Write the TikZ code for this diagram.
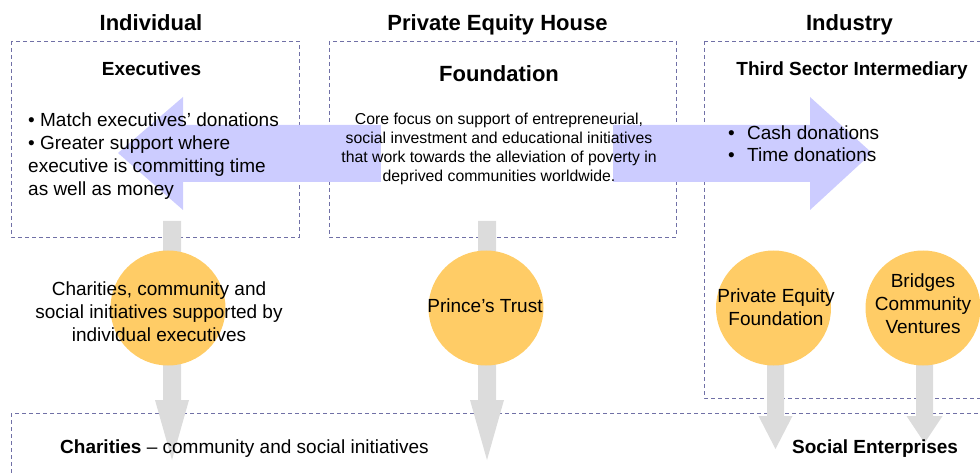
\documentclass[tikz,border=0pt]{standalone}
\usepackage{fontspec}
\setmainfont{Liberation Sans}
\definecolor{dashc}{HTML}{7070A6}
\definecolor{bluearr}{HTML}{CCCCFF}
\definecolor{grayarr}{HTML}{DCDCDC}
\definecolor{circc}{HTML}{FFCC66}
\newcommand\grayblock[6]{% cx, shaft half width, top, head base, head half width, tip
  \fill[grayarr] ({#1-#2},#3) -- ({#1+#2},#3) -- ({#1+#2},#4) -- ({#1+#5},#4) -- (#1,#6)
    -- ({#1-#5},#4) -- ({#1-#2},#4) -- cycle;}
\begin{document}
\begin{tikzpicture}[x=1pt,y=-1pt,
  box/.style={draw=dashc, dash pattern=on 4pt off 3pt, line width=0.9pt},
  headtxt/.style={font=\fontsize{22}{26}\selectfont\bfseries, anchor=base, inner sep=0pt},
  titletxt/.style={font=\fontsize{19}{23}\selectfont\bfseries, anchor=base, inner sep=0pt},
  bodytxt/.style={font=\fontsize{19}{23}\selectfont, inner sep=0pt},
  smalltxt/.style={font=\fontsize{15.8}{19}\selectfont, inner sep=0pt, align=center},
  disc/.style={circle, fill=circc, minimum size=115pt, inner sep=0pt}]
\useasboundingbox (0,0) rectangle (980,473);
\clip (0,0) rectangle (980,473);

% dashed boxes
\draw[box] (11,41) rectangle (299,237);
\draw[box] (329,41) rectangle (676,237);
\draw[box] (704,41) rectangle (1000,398);
\draw[box] (11,413) rectangle (1000,520);

% headers
\node[headtxt] (hInd) at (151,31) {Individual};
\node[headtxt] (hPEH) at (497.5,31) {Private Equity House};
\node[headtxt] (hIndus) at (849.5,31) {Industry};

% blue double arrow
\fill[bluearr] (118,153) -- (183,97) -- (183,125) -- (810,125) -- (810,97) -- (872,153)
  -- (810,210) -- (810,182) -- (183,182) -- (183,210) -- cycle;
\fill[white] (381,110) rectangle (613,195);

% gray arrows
\grayblock{172}{9}{221}{400}{17}{460}
\grayblock{487}{9}{221}{400}{17}{460}
\grayblock{775.5}{8.5}{340}{416}{17}{449}
\grayblock{924.5}{8.5}{340}{416}{18}{443}

% circles
\node[disc] (cExec) at (168,308) {};
\node[disc] (cPT) at (486,308) {};
\node[disc] (cPEF) at (773.5,308) {};
\node[disc] (cBCV) at (923,308) {};

% box texts
\node[titletxt] (tExec) at (151.5,76) {Executives};
\node[bodytxt, align=left, anchor=west] (lExec) at (28,155.7)
  {• Match executives’ donations\\• Greater support where\\executive is committing time\\as well as money};
\node[headtxt] (tFound) at (499,82) {Foundation};
\node[smalltxt] (lFound) at (499,149.4)
  {Core focus on support of entrepreneurial,\\social investment and educational initiatives\\that work towards the alleviation of poverty in\\deprived communities worldwide.};
\node[titletxt] (tTSI) at (852,76) {Third Sector Intermediary};
\node[font=\fontsize{19}{22}\selectfont, inner sep=0pt, align=left, anchor=west] (lTSI) at (728,144)
  {\makebox[19pt][l]{•}Cash donations\\\makebox[19pt][l]{•}Time donations};

% circle texts
\node[bodytxt, align=center] (xExec) at (159,312.2)
  {Charities, community and\\social initiatives supported by\\individual executives};
\node[bodytxt, anchor=base] (xPT) at (485,312) {Prince’s Trust};
\node[bodytxt, align=center] (xPEF) at (776,307.2) {Private Equity\\Foundation};
\node[bodytxt, align=center] (xBCV) at (923,303.7) {Bridges\\Community\\Ventures};

% bottom texts
\node[bodytxt, anchor=base west] (bChar) at (60,453) {\textbf{Charities} – community and social initiatives};
\node[titletxt, anchor=base west] (bSE) at (792,453) {Social Enterprises};
\end{tikzpicture}
\end{document}
